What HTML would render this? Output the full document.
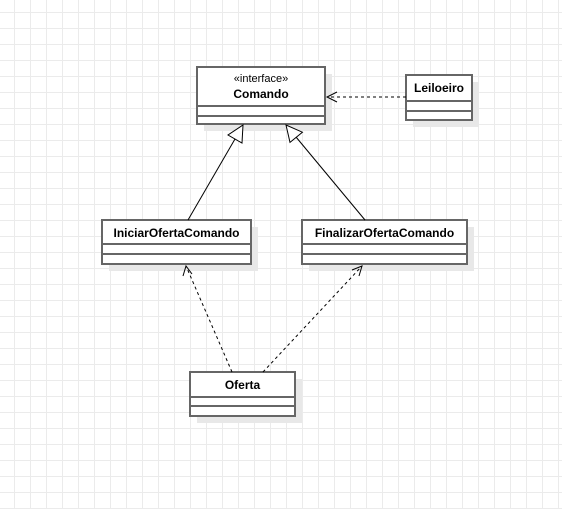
<!DOCTYPE html>
<html><head><meta charset="utf-8"><style>
html,body{margin:0;padding:0;}
body{width:562px;height:509px;overflow:hidden;background:#fff;
background-image:linear-gradient(to right,#ebebeb 1px,transparent 1px),linear-gradient(to bottom,#ebebeb 1px,transparent 1px);
background-size:16px 16px;background-position:14px 12px;}
svg{position:absolute;left:0;top:0;}
text{font-family:"Liberation Sans",sans-serif;font-size:12px;fill:#000;}
</style></head><body>
<svg width="562" height="509" viewBox="0 0 562 509">
<g fill="#e8e8e8">
<rect x="204" y="74" width="128" height="57"/>
<rect x="413" y="82" width="66" height="45"/>
<rect x="109" y="227" width="149" height="44"/>
<rect x="309" y="227" width="165" height="44"/>
<rect x="197" y="379" width="105" height="44"/>
</g>
<g fill="#fff" stroke="#666" stroke-width="2">
<rect x="197" y="67" width="128" height="57"/>
<line x1="197" y1="106" x2="325" y2="106"/><line x1="197" y1="116" x2="325" y2="116"/>
<rect x="406" y="75" width="66" height="45"/>
<line x1="406" y1="101" x2="472" y2="101"/><line x1="406" y1="111" x2="472" y2="111"/>
<rect x="102" y="220" width="149" height="44"/>
<line x1="102" y1="244" x2="251" y2="244"/><line x1="102" y1="254" x2="251" y2="254"/>
<rect x="302" y="220" width="165" height="44"/>
<line x1="302" y1="244" x2="467" y2="244"/><line x1="302" y1="254" x2="467" y2="254"/>
<rect x="190" y="372" width="105" height="44"/>
<line x1="190" y1="397" x2="295" y2="397"/><line x1="190" y1="406" x2="295" y2="406"/>
</g>
<text x="261" y="82" text-anchor="middle" style="font-size:11px">«interface»</text>
<text x="261" y="98" text-anchor="middle" style="font-weight:bold">Comando</text>
<text x="439" y="92" text-anchor="middle" style="font-weight:bold">Leiloeiro</text>
<text x="176.5" y="237" text-anchor="middle" style="font-weight:bold">IniciarOfertaComando</text>
<text x="384.5" y="237" text-anchor="middle" style="font-weight:bold">FinalizarOfertaComando</text>
<text x="242.5" y="389" text-anchor="middle" style="font-weight:bold">Oferta</text>
<g stroke="#000" stroke-width="1" fill="none">
<line x1="235" y1="139" x2="188" y2="220"/>
<line x1="296" y1="137" x2="365" y2="220"/>
<polygon points="243,125 242,143 228,135" fill="#fff"/>
<polygon points="286,125 302.4,132.2 290,142.4" fill="#fff"/>
<g stroke-dasharray="3,3">
<line x1="406" y1="97" x2="327" y2="97"/>
<line x1="232" y1="372" x2="186" y2="266"/>
<line x1="263" y1="372" x2="362" y2="266"/>
</g>
<polyline points="337,92 327,97 337,102"/>
<polyline points="183,276 186,266 192,274"/>
<polyline points="352,270 362,266 359,276"/>
</g>
</svg>
</body></html>
